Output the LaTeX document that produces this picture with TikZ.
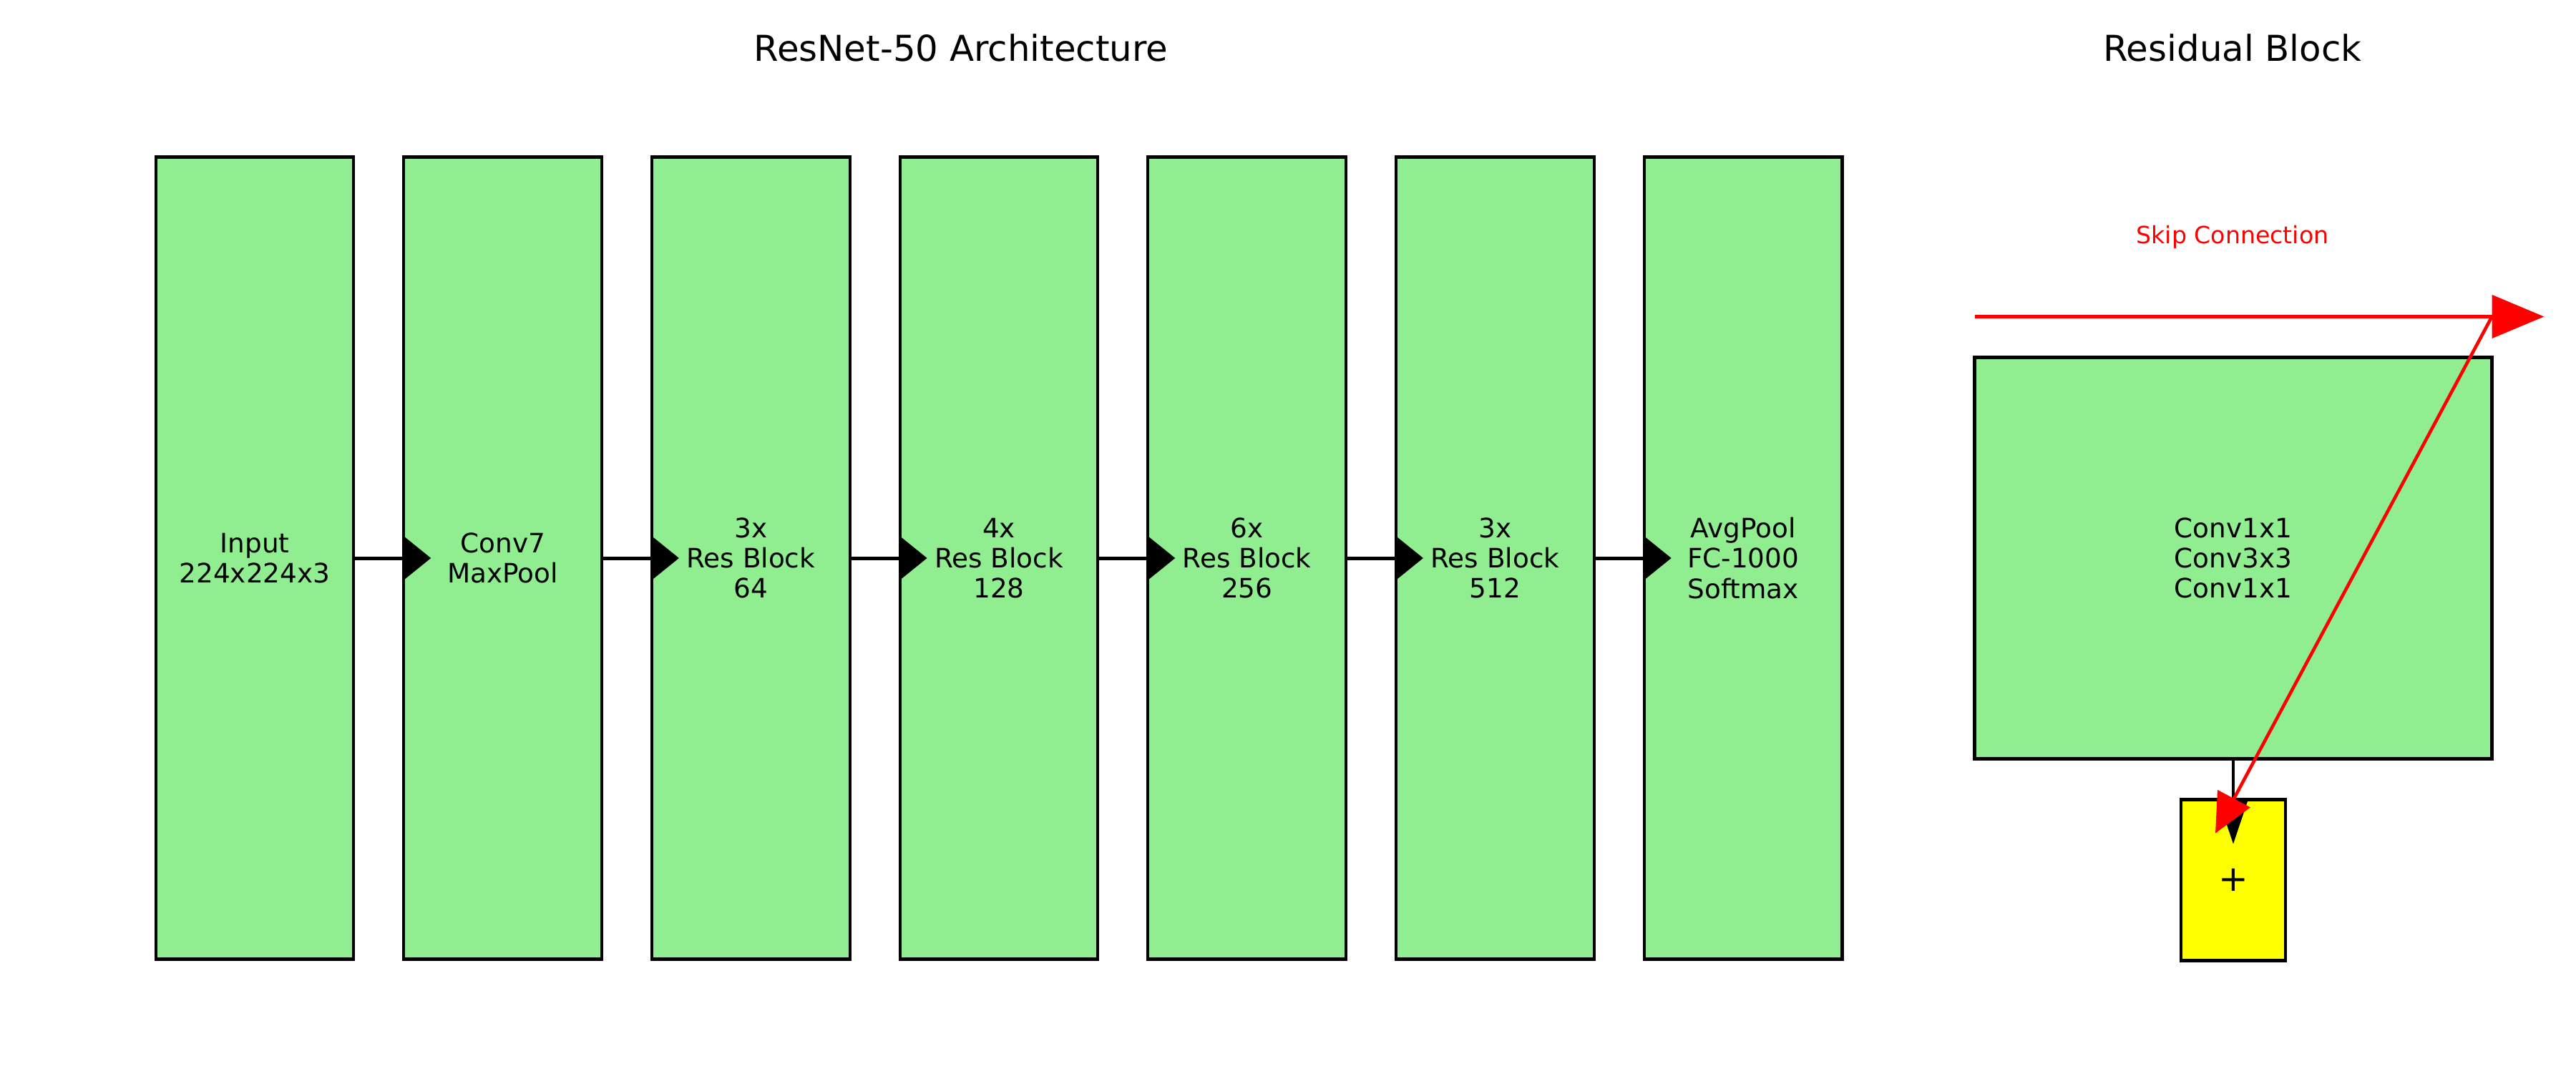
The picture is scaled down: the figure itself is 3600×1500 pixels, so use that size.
\documentclass[tikz,border=0pt]{standalone}
\usepackage{fontspec}
\setmainfont{DejaVu Sans}
\usetikzlibrary{arrows.meta}
\definecolor{lightgreen}{HTML}{90EE90}
\definecolor{addyellow}{HTML}{FFFF00}
\definecolor{skipred}{HTML}{FF0000}

\begin{document}
\begin{tikzpicture}[x=0.24bp, y=0.24bp, node distance=83.2bp, every node/.style={font=\fontsize{9}{10.2}\selectfont}]
\useasboundingbox (0,0) rectangle (3600,1500);

% Define styles for the network
\tikzstyle{layer} = [rectangle, minimum width=66.4bp, minimum height=269bp, inner sep=0pt, outer sep=0pt, align=center, draw=black, line width=1bp, fill=lightgreen]
\tikzstyle{adder} = [rectangle, minimum width=35bp, minimum height=54bp, inner sep=0pt, outer sep=0pt, draw=black, line width=1bp, fill=addyellow, font=\fontsize{12}{14}\selectfont]
\tikzstyle{title} = [font=\fontsize{12}{14}\selectfont]
\tikzstyle{arrow} = [line width=1.2bp, -{Triangle[length=9.1bp, width=14.4bp]}]
\tikzstyle{skip} = [skipred, line width=1.1bp]

% Titles
\node (archtitle) [title] at (1343,1433) {ResNet-50 Architecture};
\node (restitle) [title] at (3120,1433) {Residual Block};

% Nodes
\node (input) [layer] at (356,720) {Input\\224x224x3};
\node (stem) [layer, right of=input] {Conv7\\MaxPool};
\node (stage1) [layer, right of=stem] {3x\\Res Block\\64};
\node (stage2) [layer, right of=stage1] {4x\\Res Block\\128};
\node (stage3) [layer, right of=stage2] {6x\\Res Block\\256};
\node (stage4) [layer, right of=stage3] {3x\\Res Block\\512};
\node (head) [layer, right of=stage4] {AvgPool\\FC-1000\\Softmax};

% Residual block
\node (block) [layer, minimum width=173.5bp, minimum height=134.6bp] at (3121,720) {Conv1x1\\Conv3x3\\Conv1x1};
\node (add) [adder, below of=block, node distance=108bp] {+};
\node (skiplabel) [text=skipred, font=\fontsize{8}{9}\selectfont] at (3120,1169) {Skip Connection};
\coordinate (skipin) at ([yshift=13.7bp]block.north west);
\coordinate (skipturn) at ([yshift=13.7bp]block.north east);
\coordinate (skipout) at ([xshift=17.5bp]skipturn);
\coordinate (skipend) at ([xshift=-6bp, yshift=-11.3bp]add.north);

% Arrows
\draw [arrow] (input.east) -- ([xshift=9.1bp]stem.west);
\draw [arrow] (stem.east) -- ([xshift=9.1bp]stage1.west);
\draw [arrow] (stage1.east) -- ([xshift=9.1bp]stage2.west);
\draw [arrow] (stage2.east) -- ([xshift=9.1bp]stage3.west);
\draw [arrow] (stage3.east) -- ([xshift=9.1bp]stage4.west);
\draw [arrow] (stage4.east) -- ([xshift=9.1bp]head.west);
\draw [line width=0.9bp, -{Triangle[length=15bp, width=9.8bp]}] (block.south) -- ([yshift=-14.9bp]add.north);
\draw [skip, -{Triangle[length=17.5bp, width=14.4bp]}] (skipin) -- (skipout);
\draw [skip, -{Triangle[length=13.2bp, width=12.2bp]}] (skipturn) -- (skipend);

\end{tikzpicture}
\end{document}
